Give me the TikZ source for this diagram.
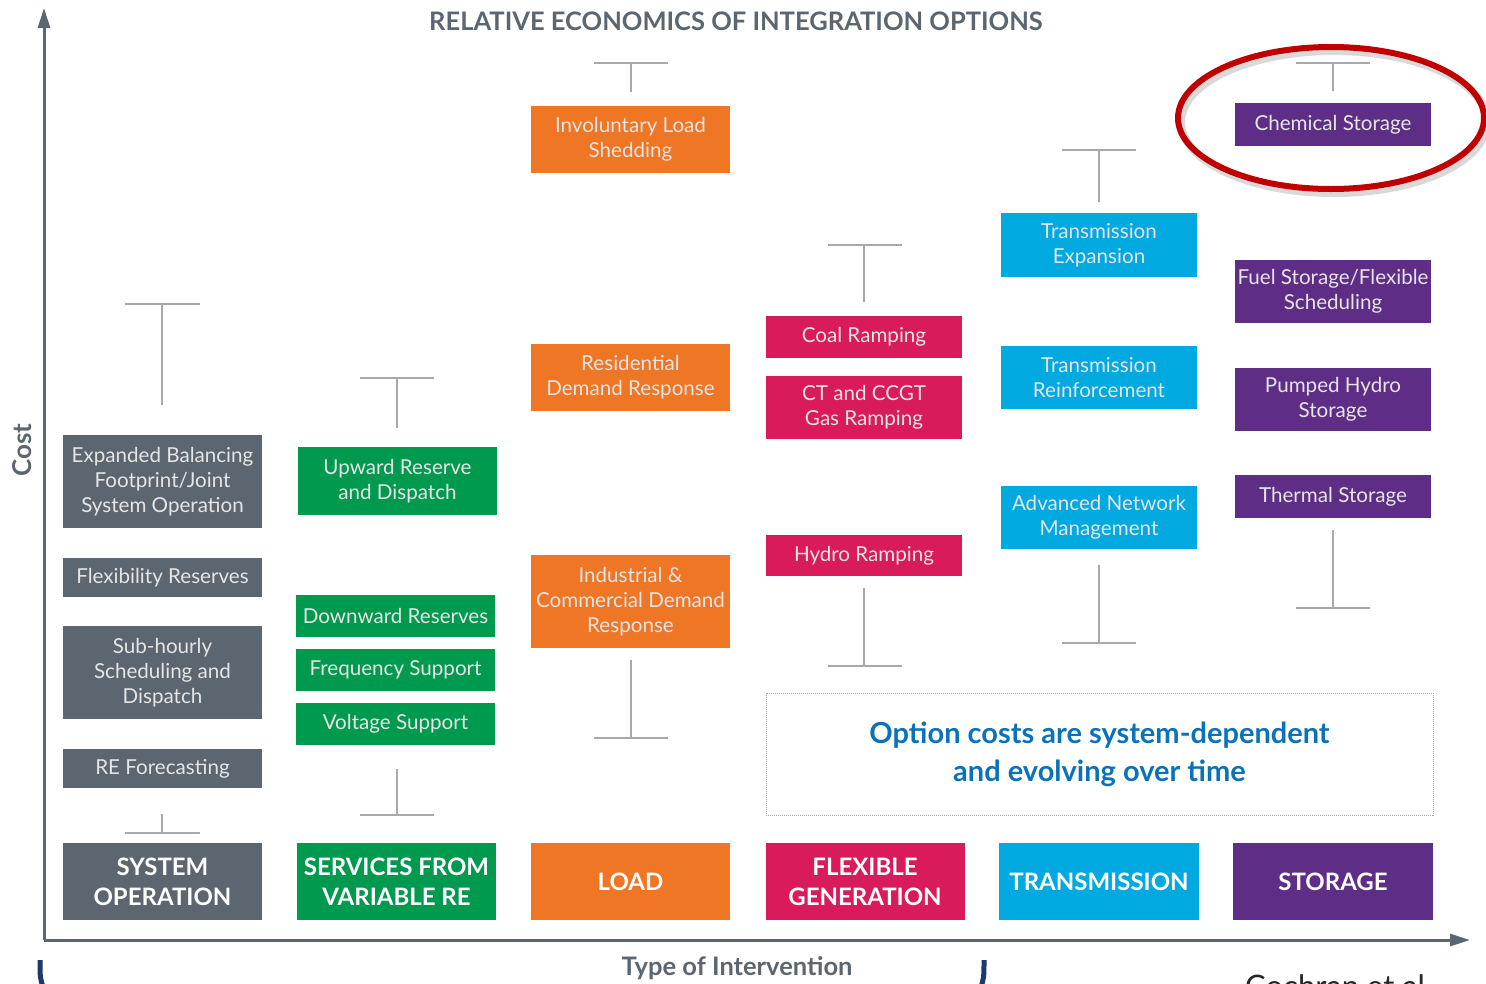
\documentclass[tikz,border=0pt]{standalone}
\usepackage{fontspec}
\setmainfont{Lato}
\usetikzlibrary{arrows.meta}
\definecolor{axgray}{HTML}{5B6670}
\definecolor{tgray}{HTML}{A7A9AC}
\definecolor{sysc}{HTML}{5B6670}
\definecolor{vrec}{HTML}{009A4E}
\definecolor{loadc}{HTML}{EE7624}
\definecolor{genc}{HTML}{D91B5C}
\definecolor{trc}{HTML}{00A9E0}
\definecolor{stc}{HTML}{5E2D86}
\definecolor{notec}{HTML}{0A72BA}
\definecolor{ringc}{HTML}{C00000}
\definecolor{navy}{HTML}{1B3A6B}
\tikzset{
  opt/.style={rectangle, inner sep=0pt, align=center, text=white!90!black,
    font=\fontsize{20.6}{25}\selectfont, minimum width=#1},
  opt/.default=199pt,
  cat/.style={rectangle, inner sep=0pt, align=center, text=white,
    font=\fontsize{24}{30}\selectfont\bfseries, minimum width=199pt, minimum height=77pt},
  tbar/.style={draw=tgray, line width=2.5pt},
  axis/.style={draw=axgray, line width=3pt, -{Triangle[length=20pt,width=12pt]}},
}
\begin{document}
\begin{tikzpicture}[x=1pt,y=-1pt]
\useasboundingbox (0,0) rectangle (1486,983);
\clip (0,0) rectangle (1486,983);
% axes
\coordinate (origin) at (44,940);
\coordinate (ytop) at (44,8);
\coordinate (xend) at (1470,940);
\draw[axis] (origin) -- (ytop);
\draw[axis] (origin) -- (xend);
\node[rotate=90, text=axgray, font=\fontsize{26}{30}\selectfont\bfseries] (costlbl) at (22,450) {Cost};
\node[text=axgray, font=\fontsize{25.5}{30}\selectfont\bfseries] (title) at (736,21) {RELATIVE ECONOMICS OF INTEGRATION OPTIONS};
\node[text=axgray, font=\fontsize{25.5}{30}\selectfont\bfseries] (xlbl) at (737,968) {Type of Intervention};

% column 1 system operation
\node[opt, fill=sysc, minimum height=93pt] (exp) at (162.5,481.5) {Expanded Balancing\\Footprint/Joint\\System Operation};
\node[opt, fill=sysc, minimum height=39pt] (flex) at (162.5,577.5) {Flexibility Reserves};
\node[opt, fill=sysc, minimum height=93pt] (sub) at (162.5,672.5) {Sub-hourly\\Scheduling and\\Dispatch};
\node[opt, fill=sysc, minimum height=39pt] (ref) at (162.5,768.5) {RE Forecasting};
\node[cat, fill=sysc] (catsys) at (162.5,881.5) {SYSTEM\\OPERATION};
\coordinate (s1t) at (162,304); \coordinate (s1b) at (162,405);
\coordinate (s1l) at (125,304); \coordinate (s1r) at (200,304);
\draw[tbar] (s1l) -- (s1r); \draw[tbar] (s1t) -- (s1b);
\coordinate (s1u) at (162,814); \coordinate (s1d) at (162,833);
\coordinate (s1dl) at (125,833); \coordinate (s1dr) at (200,833);
\draw[tbar] (s1dl) -- (s1dr); \draw[tbar] (s1u) -- (s1d);

% column 2 vre
\node[opt, fill=vrec, minimum height=68pt] (up) at (397.5,481) {Upward Reserve\\and Dispatch};
\node[opt, fill=vrec, minimum height=42pt] (down) at (395.5,616) {Downward Reserves};
\node[opt, fill=vrec, minimum height=42pt] (freq) at (395.5,670) {Frequency Support};
\node[opt, fill=vrec, minimum height=42pt] (volt) at (395.5,724) {Voltage Support};
\node[cat, fill=vrec] (catvre) at (396.5,881.5) {SERVICES FROM\\VARIABLE RE};
\coordinate (s2t) at (397,378); \coordinate (s2b) at (397,428);
\coordinate (s2l) at (360,378); \coordinate (s2r) at (434,378);
\draw[tbar] (s2l) -- (s2r); \draw[tbar] (s2t) -- (s2b);
\coordinate (s2u) at (397,769); \coordinate (s2d) at (397,815);
\coordinate (s2dl) at (360,815); \coordinate (s2dr) at (434,815);
\draw[tbar] (s2dl) -- (s2dr); \draw[tbar] (s2u) -- (s2d);

% column 3 load
\node[opt, fill=loadc, minimum height=67pt] (inv) at (630.5,139.5) {Involuntary Load\\Shedding};
\node[opt, fill=loadc, minimum height=67pt] (res) at (630.5,377.5) {Residential\\Demand Response};
\node[opt, fill=loadc, minimum height=93pt] (ind) at (630.5,601.5) {Industrial \&\\Commercial Demand\\Response};
\node[cat, fill=loadc] (catload) at (630.5,881.5) {LOAD};
\coordinate (s3t) at (631,63); \coordinate (s3b) at (631,92);
\coordinate (s3l) at (594,63); \coordinate (s3r) at (668,63);
\draw[tbar] (s3l) -- (s3r); \draw[tbar] (s3t) -- (s3b);
\coordinate (s3u) at (631,660); \coordinate (s3d) at (631,738);
\coordinate (s3dl) at (594,738); \coordinate (s3dr) at (668,738);
\draw[tbar] (s3dl) -- (s3dr); \draw[tbar] (s3u) -- (s3d);

% column 4 flexible generation
\node[opt=196pt, fill=genc, minimum height=42pt] (coal) at (864,337) {Coal Ramping};
\node[opt=196pt, fill=genc, minimum height=63pt] (ct) at (864,407.5) {CT and CCGT\\Gas Ramping};
\node[opt=196pt, fill=genc, minimum height=41pt] (hydro) at (864,555.5) {Hydro Ramping};
\node[cat, fill=genc] (catgen) at (865,881.5) {FLEXIBLE\\GENERATION};
\coordinate (s4t) at (864,245); \coordinate (s4b) at (864,302);
\coordinate (s4l) at (828,245); \coordinate (s4r) at (902,245);
\draw[tbar] (s4l) -- (s4r); \draw[tbar] (s4t) -- (s4b);
\coordinate (s4u) at (864,588); \coordinate (s4d) at (864,666);
\coordinate (s4dl) at (828,666); \coordinate (s4dr) at (902,666);
\draw[tbar] (s4dl) -- (s4dr); \draw[tbar] (s4u) -- (s4d);

% column 5 transmission
\node[opt=196pt, fill=trc, minimum height=64pt] (te) at (1099,245) {Transmission\\Expansion};
\node[opt=196pt, fill=trc, minimum height=63pt] (tr) at (1099,377.5) {Transmission\\Reinforcement};
\node[opt=196pt, fill=trc, minimum height=63pt] (anm) at (1099,517.5) {Advanced Network\\Management};
\node[cat, fill=trc, minimum width=200pt] (cattr) at (1099,881.5) {TRANSMISSION};
\coordinate (s5t) at (1099,150); \coordinate (s5b) at (1099,202);
\coordinate (s5l) at (1062,150); \coordinate (s5r) at (1136,150);
\draw[tbar] (s5l) -- (s5r); \draw[tbar] (s5t) -- (s5b);
\coordinate (s5u) at (1099,565); \coordinate (s5d) at (1099,643);
\coordinate (s5dl) at (1062,643); \coordinate (s5dr) at (1136,643);
\draw[tbar] (s5dl) -- (s5dr); \draw[tbar] (s5u) -- (s5d);

% column 6 storage
\node[opt=196pt, fill=stc, minimum height=43pt] (chem) at (1333,124.5) {Chemical Storage};
\node[opt=196pt, fill=stc, minimum height=63pt] (fuel) at (1333,291.5) {Fuel Storage/Flexible\\Scheduling};
\node[opt=196pt, fill=stc, minimum height=63pt] (pump) at (1333,399.5) {Pumped Hydro\\Storage};
\node[opt=196pt, fill=stc, minimum height=43pt] (therm) at (1333,496.5) {Thermal Storage};
\node[cat, fill=stc, minimum width=200pt] (catst) at (1333,881.5) {STORAGE};
\coordinate (s6t) at (1333,63); \coordinate (s6b) at (1333,91);
\coordinate (s6l) at (1296,63); \coordinate (s6r) at (1370,63);
\draw[tbar] (s6l) -- (s6r); \draw[tbar] (s6t) -- (s6b);
\coordinate (s6u) at (1333,530); \coordinate (s6d) at (1333,608);
\coordinate (s6dl) at (1296,608); \coordinate (s6dr) at (1370,608);
\draw[tbar] (s6dl) -- (s6dr); \draw[tbar] (s6u) -- (s6d);

% note box
\node[draw=gray!70, densely dotted, line width=1pt, minimum width=667pt, minimum height=122pt,
  inner sep=0pt, align=center, text=notec, font=\fontsize{29}{38}\selectfont\bfseries] (note) at (1099.5,754)
  {Option costs are system-dependent\\and evolving over time};

% highlight ring
\draw[black, opacity=0.15, line width=8pt] (1334,122) ellipse [x radius=153pt, y radius=71pt];
\draw[ringc, line width=6pt] (1331,118) ellipse [x radius=153pt, y radius=71pt];

% bottom partial marks
\coordinate (bl1) at (40,960); \coordinate (bl2) at (44,990);
\coordinate (br1) at (984,960); \coordinate (br2) at (980,990);
\draw[navy, line width=5pt] (bl1) .. controls (40,978) .. (bl2);
\draw[navy, line width=5pt] (br1) .. controls (984,978) .. (br2);
\node[anchor=base west, inner sep=0pt, text=black!85, font=\fontsize{31}{36}\selectfont] (cite) at (1245,997) {Cochran et al.};
\end{tikzpicture}
\end{document}
